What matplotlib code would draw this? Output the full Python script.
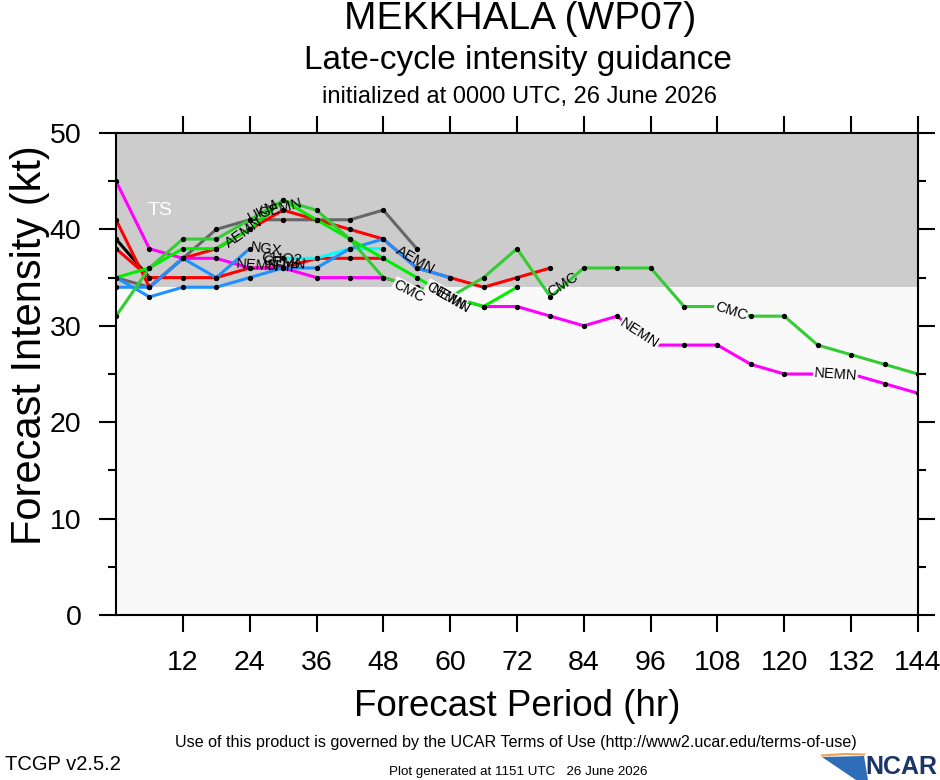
import numpy as np
import matplotlib
matplotlib.use('Agg')
import matplotlib.pyplot as plt
from matplotlib.patches import Rectangle, Polygon
from matplotlib.lines import Line2D

plt.rcParams['font.family'] = ['Liberation Sans', 'DejaVu Sans']

hours = list(range(0, 145, 6))

# model tracks (kt), one value per 6 h from hour 0
nemn = [45, 38, 37, 37, 36, 36, 35, 35, 35, 34, 33, 32, 32, 31, 30, 31, 28, 28, 28, 26, 25, 25, 25, 24, 23]
cmc = [31, 36, 39, 39, 41, 43, 42, 39, 35, 34, 33, 35, 38, 33, 36, 36, 36, 32, 32, 31, 31, 28, 27, 26, 25]
cemn = [35, 36, 38, 38, 40, 43, 41, 39, 37, 35, 33, 32, 34]
red_a = [41, 34, 37, 38, 40, 42, 41, 40, 39, 36, 35, 34, 35, 36]
red_b = [38, 35, 35, 35, 36, 36, 37, 37, 37]
ukm = [35, 34, 37, 40, 41, 41, 41, 41, 42, 38]
black_trk = [39, 35]
ngx = [34, 34, 37, 35, 38]
aemn = [35, 33, 34, 34, 35, 36, 36, 38, 39, 36, 35]
cyan_hrs = [30, 36, 42, 48]
cyan_trk = [37, 37, 38, 38]

# (hours, values, colour) in drawing order
tracks = [
    (hours, black_trk, 'black'),
    (hours, ukm, '#666666'),
    (hours, red_a, '#ff0000'),
    (hours, red_b, '#ff0000'),
    (cyan_hrs, cyan_trk, '#00ffff'),
    (hours, nemn, '#ff00ff'),
    (hours, ngx, '#1e90ff'),
    (hours, aemn, '#1e90ff'),
    (hours, cemn, '#00ee00'),
    (hours, cmc, '#33cc33'),
]

# line labels: text, hour, kt, angle, gap the line?
labels = [
    ('AEMN', 23, 39.7, 35, False),
    ('UKM', 26.5, 41.9, 28, False),
    ('GEMN', 29.5, 42.2, 15, False),
    ('NGX', 27, 37.9, -8, False),
    ('NEMN', 25.5, 36.3, -4, False),
    ('CHO2', 29.8, 36.9, -3, False),
    ('CEMN', 30.2, 36.5, -5, False),
    ('SHIP', 30.0, 36.1, -6, False),
    ('AEMN', 53.8, 36.8, -30, False),
    ('CMC', 52.6, 33.6, -28, True),
    ('CEMN', 59.2, 33.1, -30, True),
    ('NEMN', 60.0, 32.7, -30, False),
    ('CMC', 80.2, 34.3, 33, False),
    ('NEMN', 94.0, 29.2, -33, True),
    ('CMC', 110.4, 31.5, -18, True),
    ('NEMN', 129.2, 24.9, -4, True),
]

fig = plt.figure(figsize=(9.4, 7.8), dpi=100)
ax = fig.add_axes([116 / 940, 1 - 615 / 780, 802 / 940, 482 / 780])
ax.set_xlim(0, 144)
ax.set_ylim(0, 50)

ax.add_patch(Rectangle((0, 0), 144, 34, facecolor='#f9f9f9', edgecolor='none', zorder=0))
ax.add_patch(Rectangle((0, 34), 144, 16, facecolor='#cccccc', edgecolor='none', zorder=0))
ax.text(8, 42, 'TS', color='white', fontsize=14, ha='center', va='center', zorder=1)

for hrs, vals, col in tracks:
    x = hrs[:len(vals)]
    ax.plot(x, vals, color=col, lw=2.2, zorder=2, solid_capstyle='butt')
    ax.plot(x, vals, 'o', color='black', ms=2.8, zorder=3)

for txt, h, v, ang, gap in labels:
    kw = {}
    if gap:
        bg = '#cccccc' if v > 34 else '#f9f9f9'
        kw['bbox'] = dict(facecolor=bg, edgecolor='none', pad=0.5)
    ax.text(h, v, txt, fontsize=10.5, rotation=ang, rotation_mode='anchor',
            ha='center', va='center', color='black', zorder=4, **kw)

ax.set_xticks(range(12, 145, 12))
ax.set_yticks(range(0, 51, 10))
ax.set_yticks(range(5, 50, 10), minor=True)
ax.tick_params(which='major', direction='out', length=12, width=1.5, labelsize=20.5, pad=13,
               top=True, right=True)
ax.tick_params(which='minor', direction='out', length=6, width=1.5, left=True, right=True)
for s in ax.spines.values():
    s.set_linewidth(1.5)

fig.text(30 / 940, 1 - 345 / 780, 'Forecast Intensity (kt)', rotation=90, fontsize=30,
         ha='center', va='center')
fig.text(517 / 940, 1 - 707 / 780, 'Forecast Period (hr)', fontsize=26.5, ha='center', va='center')

fig.text(520 / 940, 1 - 19 / 780, 'MEKKHALA (WP07)', fontsize=28, ha='center', va='center')
fig.text(518 / 940, 1 - 61 / 780, 'Late-cycle intensity guidance', fontsize=24, ha='center', va='center')
fig.text(519 / 940, 1 - 97 / 780, 'initialized at 0000 UTC, 26 June 2026', fontsize=17,
         ha='center', va='center')

fig.text(516 / 940, 1 - 742 / 780,
         'Use of this product is governed by the UCAR Terms of Use (http://www2.ucar.edu/terms-of-use)',
         fontsize=11.6, ha='center', va='center')
fig.text(5 / 940, 1 - 765 / 780, 'TCGP v2.5.2', fontsize=14.5, ha='left', va='center')
fig.text(518 / 940, 1 - 772 / 780, 'Plot generated at 1151 UTC   26 June 2026', fontsize=9.6,
         ha='center', va='center')

# NCAR logo
sw = Polygon([[822 / 940, 1 - 757 / 780], [864 / 940, 1 - 756 / 780], [868 / 940, 1 - 780 / 780],
              [856 / 940, 1 - 780 / 780]], closed=True, facecolor='#2f6db8', edgecolor='none',
             transform=fig.transFigure)
fig.patches.append(sw)
fig.lines.append(Line2D([822 / 940, 845 / 940, 864 / 940], [1 - 755.5 / 780, 1 - 754 / 780, 1 - 754.5 / 780],
                        color='#f0a050', lw=1.5, transform=fig.transFigure))
fig.text(937 / 940, 1 - 767 / 780, 'NCAR', fontsize=18, fontweight='bold', color='#1b3566',
         ha='right', va='center')

fig.savefig('out.png', dpi=100)
